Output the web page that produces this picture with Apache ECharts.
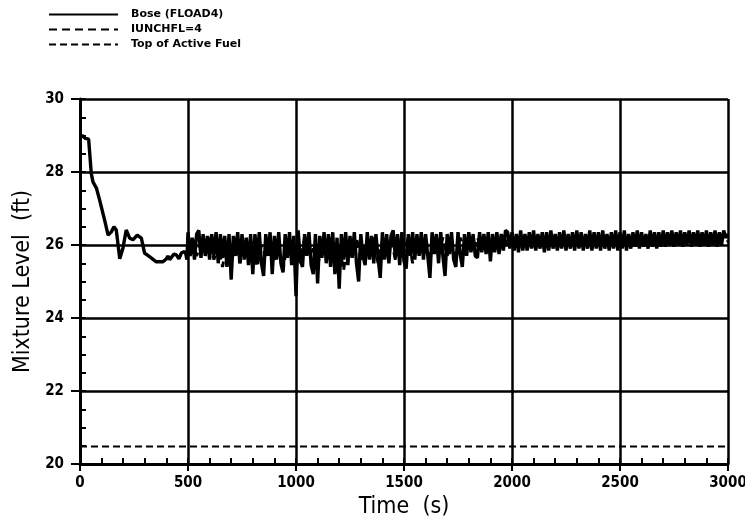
<!DOCTYPE html>
<html>
<head>
<meta charset="utf-8">
<script src="https://cdn.jsdelivr.net/npm/echarts@6/dist/echarts.min.js"></script>
<style>html,body{margin:0;padding:0;background:#fff}#c{width:745px;height:523px}</style>
</head>
<body>
<div id="c"></div>
<script>
// ---- data ----
const seriesNames = ['Bose (FLOAD4)', 'IUNCHFL=4', 'Top of Active Fuel'];
const xTicks = [0, 500, 1000, 1500, 2000, 2500, 3000];
const yTicks = [20, 22, 24, 26, 28, 30];

// early part of base case: [time, level]
const baseEarly = [[0,28.95],[10,29.0],[25,28.92],[40,28.9],[45,28.85],[52,27.97],[60,27.73],[76,27.56],[91,27.23],[114,26.68],[130,26.27],[145,26.36],[157,26.5],[168,26.41],[184,25.62],[199,25.92],[214,26.41],[230,26.19],[245,26.14],[265,26.27],[284,26.19],[299,25.78],[322,25.68],[353,25.54],[384,25.54],[400,25.62],[407,25.7],[415,25.6],[423,25.62],[435,25.75],[446,25.73],[458,25.62],[469,25.78],[484,25.82],[490,25.75],[495,25.6]];

// oscillating part of base case, sampled every 10 s from 500 s
const baseOscStart = 500, baseOscStep = 10;
const baseOsc = [
26.35,25.7,26.2,25.6,26.3,26.4,25.65,26.3,25.7,26.25,
25.6,26.3,25.7,26.35,25.5,26.3,25.65,26.25,25.4,26.3,
25.05,26.25,25.7,26.35,25.5,26.3,25.6,26.2,25.45,26.3,
25.2,26.3,25.6,26.35,25.5,25.15,26.3,25.7,26.35,25.2,
26.25,25.6,26.35,25.5,25.25,26.3,25.65,26.35,25.45,26.25,
24.6,26.4,25.6,25.4,26.3,25.7,26.35,25.45,25.2,26.3,
24.95,26.25,25.65,26.35,25.5,26.3,25.4,26.35,25.2,26.2,
24.8,26.3,25.6,26.35,25.45,26.25,25.65,26.35,25.5,25.0,
26.3,25.7,25.45,26.35,25.6,26.25,25.5,26.3,25.65,25.1,
26.35,25.6,26.3,25.5,26.25,26.4,25.65,26.3,25.45,26.35,
25.55,25.35,26.3,25.7,26.35,25.6,26.3,25.7,26.35,25.6,
26.3,25.7,25.1,26.35,25.75,26.3,25.5,26.35,25.7,25.15,
26.3,25.75,26.35,25.6,25.4,26.35,25.75,25.4,26.3,25.7,
26.35,25.8,26.3,25.7,25.65,26.35,25.8,26.3,25.75,26.35,
25.55,26.3,25.8,26.35,25.75,26.3,25.85,26.4,26.35,25.9,
26.35,25.85,26.3,25.8,26.4,25.85,26.3,25.85,26.35,25.9,
26.4,25.85,26.3,25.9,26.35,25.8,26.35,25.85,26.4,25.9,
26.3,25.85,26.35,25.9,26.4,25.85,26.3,25.9,26.35,25.85,
26.4,25.9,26.35,25.85,26.3,25.9,26.4,25.85,26.35,25.9,
26.35,25.85,26.4,25.9,26.3,25.85,26.35,25.9,26.4,25.85,
26.35,25.9,26.4,25.85,26.3,25.9,26.35,25.95,26.4,25.9,
26.35,25.95,26.3,25.9,26.4,25.95,26.35,25.9,26.35,25.95,
26.4,25.95,26.35,26.0,26.4,25.95,26.35,26.0,26.4,25.95,
26.35,26.0,26.4,25.95,26.35,26.0,26.4,25.95,26.35,26.0,
26.4,25.95,26.35,26.0,26.4,25.95,26.35,26.0,26.4,26.2,
26.3];

// IUNCHFL=4 case, sampled every 20 s from 500 s
const iunStart = 500, iunStep = 20;
const iunValues = [
25.9,26.2,25.7,26.1,25.8, 26.2,25.6,26.0,25.4,26.1,
25.8,26.2,25.5,26.0,25.7, 26.1,25.4,26.0,25.7,26.2,
25.6,25.9,25.3,26.1,25.8, 26.0,25.5,26.2,25.7,25.9,
25.4,26.1,25.8,26.2,25.6, 26.0,25.3,26.1,25.7,26.2,
25.6,26.0,25.8,26.2,25.5, 26.1,25.7,26.2,25.6,26.0,
25.8,26.2,25.5,26.1,25.9, 26.2,25.6,26.0,25.8,26.2,
25.7,26.1,25.6,26.2,25.9, 26.1,25.8,26.2,25.9,26.1,
25.8,26.2,25.9,26.3,25.95, 26.2,25.95,26.25,26.0,26.2,
25.95,26.25,26.0,26.2,26.0, 26.25,25.95,26.2,26.05,26.25,
26.0,26.2,26.05,26.25,26.0, 26.2,26.05,26.25,26.0,26.2,
26.05,26.25,26.0,26.2,26.05, 26.2,26.0,26.15,26.05,26.1,
26.05,26.1,26.05,26.1,26.05, 26.1,26.05,26.1,26.05,26.1,
26.05,26.1,26.05,26.1,26.05, 26.1];

const fuelTop = 20.48;
const xRange = [0, 3000];

// ---- build series data ----
const baseData = baseEarly.concat(baseOsc.map((v, i) => [baseOscStart + i * baseOscStep, v]));
const iunData = iunValues.map((v, i) => [iunStart + i * iunStep, v]);
const fuelData = [[xRange[0], fuelTop], [xRange[1], fuelTop]];

const FONT = 'DejaVu Sans Condensed';
const plain = v => String(v);
const chart = echarts.init(document.getElementById('c'), null, {renderer: 'canvas'});
chart.setOption({
  animation: false,
  backgroundColor: '#fff',
  legend: {
    orient: 'vertical', left: 43, top: 4,
    itemWidth: 69, itemHeight: 10, itemGap: 4,
    itemStyle: {opacity: 0},
    textStyle: {fontFamily: 'DejaVu Sans', fontWeight: 'bold', fontSize: 11, color: '#000', padding: [0, 0, 0, 8]},
    data: seriesNames
  },
  grid: {left: 80, right: 17, top: 99, bottom: 59, outerBoundsMode: 'none', containLabel: false},
  xAxis: [{
    type: 'value', min: xTicks[0], max: xTicks[xTicks.length - 1], interval: 500,
    name: 'Time  (s)', nameLocation: 'middle', nameGap: 26,
    nameTextStyle: {fontFamily: FONT, fontSize: 23, color: '#000'},
    axisLine: {lineStyle: {color: '#000', width: 3}},
    axisTick: {show: true, inside: false, length: 7, lineStyle: {color: '#000', width: 2}},
    axisLabel: {fontFamily: FONT, fontSize: 15, fontWeight: 'bold', color: '#000', margin: 12, formatter: plain},
    splitLine: {show: true, lineStyle: {color: '#000', width: 2.5}}
  }, {
    type: 'value', min: 0, max: 3000, interval: 100, position: 'bottom',
    axisLine: {show: false}, axisLabel: {show: false}, splitLine: {show: false},
    axisTick: {show: true, inside: true, length: 6, lineStyle: {color: '#000', width: 2}}
  }],
  yAxis: [{
    type: 'value', min: yTicks[0], max: yTicks[yTicks.length - 1], interval: 2,
    name: 'Mixture Level  (ft)', nameLocation: 'middle', nameGap: 44,
    nameTextStyle: {fontFamily: FONT, fontSize: 23, color: '#000'},
    axisLine: {show: true, lineStyle: {color: '#000', width: 3}},
    axisTick: {show: true, inside: false, length: 9, lineStyle: {color: '#000', width: 2}},
    axisLabel: {fontFamily: FONT, fontSize: 15, fontWeight: 'bold', color: '#000', margin: 16, formatter: plain},
    splitLine: {show: true, lineStyle: {color: '#000', width: 2.5}}
  }, {
    type: 'value', min: 20, max: 30, interval: 0.5, position: 'left',
    axisLine: {show: false}, axisLabel: {show: false}, splitLine: {show: false},
    axisTick: {show: true, inside: true, length: 6, lineStyle: {color: '#000', width: 2}}
  }],
  series: [{
    name: seriesNames[0], type: 'line', data: baseData, showSymbol: false, symbol: 'none',
    lineStyle: {color: '#000', width: 3.4, type: 'solid'}, itemStyle: {color: '#000'}, z: 3
  }, {
    name: seriesNames[1], type: 'line', data: iunData, showSymbol: false, symbol: 'none',
    lineStyle: {color: '#000', width: 3, type: [8, 5]}, itemStyle: {color: '#000'}, z: 2
  }, {
    name: seriesNames[2], type: 'line', data: fuelData, showSymbol: false, symbol: 'none',
    lineStyle: {color: '#000', width: 2, type: [7, 4]}, itemStyle: {color: '#000'}, z: 2
  }]
});
</script>
</body>
</html>
